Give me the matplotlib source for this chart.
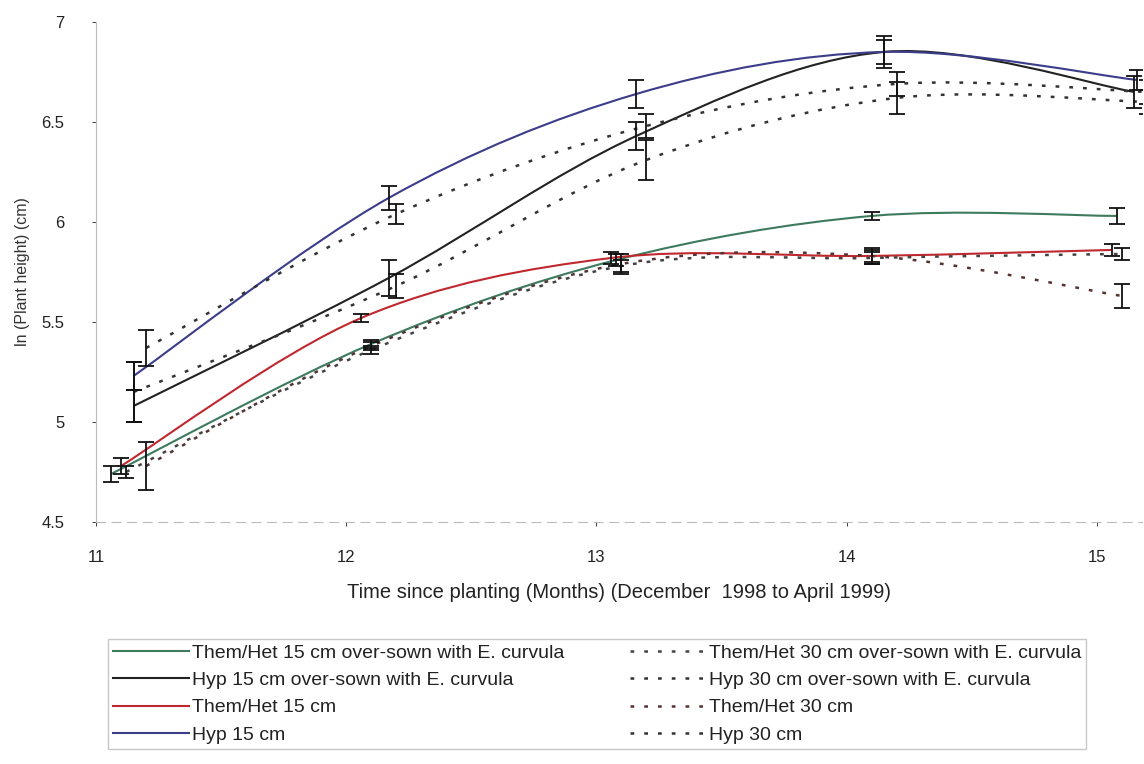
import numpy as np
import matplotlib
matplotlib.use('Agg')
from matplotlib import pyplot as plt
from matplotlib.path import Path
from matplotlib.patches import PathPatch
from matplotlib.lines import Line2D

plt.rcParams['font.family'] = ['Liberation Sans', 'DejaVu Sans']

# ln(plant height) per sampling month; x values carry the small offsets seen in the chart
labels = ['Them/Het 15 cm over-sown with E. curvula',
          'Hyp 15 cm over-sown with E. curvula',
          'Them/Het 15 cm',
          'Hyp 15 cm',
          'Them/Het 30 cm over-sown with E. curvula',
          'Hyp 30 cm over-sown with E. curvula',
          'Them/Het 30 cm',
          'Hyp 30 cm']

x_themhet15_os = [11.06, 12.10, 13.08, 14.10, 15.08]
y_themhet15_os = [4.74, 5.39, 5.81, 6.03, 6.03]
e_themhet15_os = [0.04, 0.02, 0.03, 0.02, 0.04]

x_hyp15_os = [11.15, 12.17, 13.16, 14.15, 15.15]
y_hyp15_os = [5.08, 5.72, 6.43, 6.85, 6.65]
e_hyp15_os = [0.08, 0.09, 0.07, 0.06, 0.08]

x_themhet15 = [11.10, 12.06, 13.06, 14.10, 15.06]
y_themhet15 = [4.78, 5.52, 5.82, 5.83, 5.86]
e_themhet15 = [0.04, 0.02, 0.03, 0.04, 0.03]

x_hyp15 = [11.15, 12.17, 13.16, 14.15, 15.16]
y_hyp15 = [5.23, 6.12, 6.64, 6.85, 6.71]
e_hyp15 = [0.07, 0.06, 0.07, 0.08, 0.05]

x_themhet30_os = [11.12, 12.10, 13.10, 14.10, 15.10]
y_themhet30_os = [4.75, 5.36, 5.78, 5.82, 5.84]
e_themhet30_os = [0.03, 0.02, 0.03, 0.03, 0.03]

x_hyp30_os = [11.15, 12.20, 13.20, 14.20, 15.20]
y_hyp30_os = [5.15, 5.68, 6.31, 6.62, 6.60]
e_hyp30_os = [0.15, 0.06, 0.10, 0.08, 0.06]

x_themhet30 = [11.20, 12.10, 13.10, 14.10, 15.10]
y_themhet30 = [4.78, 5.38, 5.79, 5.83, 5.63]
e_themhet30 = [0.12, 0.02, 0.05, 0.03, 0.06]

x_hyp30 = [11.20, 12.20, 13.20, 14.20, 15.20]
y_hyp30 = [5.37, 6.04, 6.48, 6.69, 6.65]
e_hyp30 = [0.09, 0.05, 0.06, 0.06, 0.06]

dots = (0, (1.5, 4))
series = [
    (x_themhet15_os, y_themhet15_os, e_themhet15_os, '#3d7a5e', '-'),
    (x_hyp15_os, y_hyp15_os, e_hyp15_os, '#222222', '-'),
    (x_themhet15, y_themhet15, e_themhet15, '#c0282f', '-'),
    (x_hyp15, y_hyp15, e_hyp15, '#3b3d8a', '-'),
    (x_themhet30_os, y_themhet30_os, e_themhet30_os, '#444444', dots),
    (x_hyp30_os, y_hyp30_os, e_hyp30_os, '#333333', dots),
    (x_themhet30, y_themhet30, e_themhet30, '#553333', dots),
    (x_hyp30, y_hyp30, e_hyp30, '#333333', dots),
]


def smooth_path(xs, ys):
    # smoothed line like a spreadsheet chart: Catmull-Rom turned into cubic Bezier pieces
    p = np.column_stack([xs, ys]).astype(float)
    ext = np.vstack([p[0], p, p[-1]])
    verts = [p[0]]
    codes = [Path.MOVETO]
    for i in range(len(p) - 1):
        a, b, c, d = ext[i], ext[i + 1], ext[i + 2], ext[i + 3]
        verts += [b + (c - a) / 6.0, c - (d - b) / 6.0, c]
        codes += [Path.CURVE4] * 3
    return Path(verts, codes)


fig = plt.figure(figsize=(11.44, 7.64), dpi=100)
ax = fig.add_axes([0.084, 0.3168, 0.914, 0.6545])

handles = []
for (xs, ys, es, col, ls), lab in zip(series, labels):
    lw = 1.5 if ls == '-' else 1.8
    ax.add_patch(PathPatch(smooth_path(xs, ys), fill=False, edgecolor=col,
                           linewidth=lw, linestyle=ls, capstyle='butt'))
    ax.errorbar(xs, ys, yerr=es, fmt='none', ecolor='#111111', elinewidth=1.3,
                capsize=5.5, capthick=1.3)
    handles.append(Line2D([], [], color=col, linewidth=lw, linestyle=ls))

ax.set_xlim(11, 15.18)
ax.set_ylim(4.5, 7.0)
ax.set_xticks([11, 12, 13, 14, 15])
ax.set_yticks([4.5, 5, 5.5, 6, 6.5, 7])
ax.set_yticklabels(['4.5', '5', '5.5', '6', '6.5', '7'])
ax.tick_params(labelsize=12, colors='#222222', length=3, width=0.6)
ax.tick_params(axis='x', pad=17)
ax.tick_params(axis='y', pad=20)
for s in ['top', 'right']:
    ax.spines[s].set_visible(False)
for s in ['left', 'bottom']:
    ax.spines[s].set_color('#bbbbbb')
    ax.spines[s].set_linewidth(0.8)
ax.spines['bottom'].set_linestyle((0, (8, 6)))

ax.set_xlabel('Time since planting (Months) (December  1998 to April 1999)',
              fontsize=14.5, labelpad=13, color='#222222')
ax.set_ylabel('ln (Plant height) (cm)', fontsize=11.5, labelpad=8, color='#333333')

fig.legend(handles, labels, ncol=2, loc='upper left', bbox_to_anchor=(0.086, 0.176),
           fontsize=14, handlelength=3.9, handletextpad=0.15, columnspacing=3.4,
           labelspacing=0.5, frameon=True, fancybox=False, edgecolor='#bbbbbb',
           borderpad=0.25, labelcolor='#222222')

fig.savefig('out.png', dpi=100)
